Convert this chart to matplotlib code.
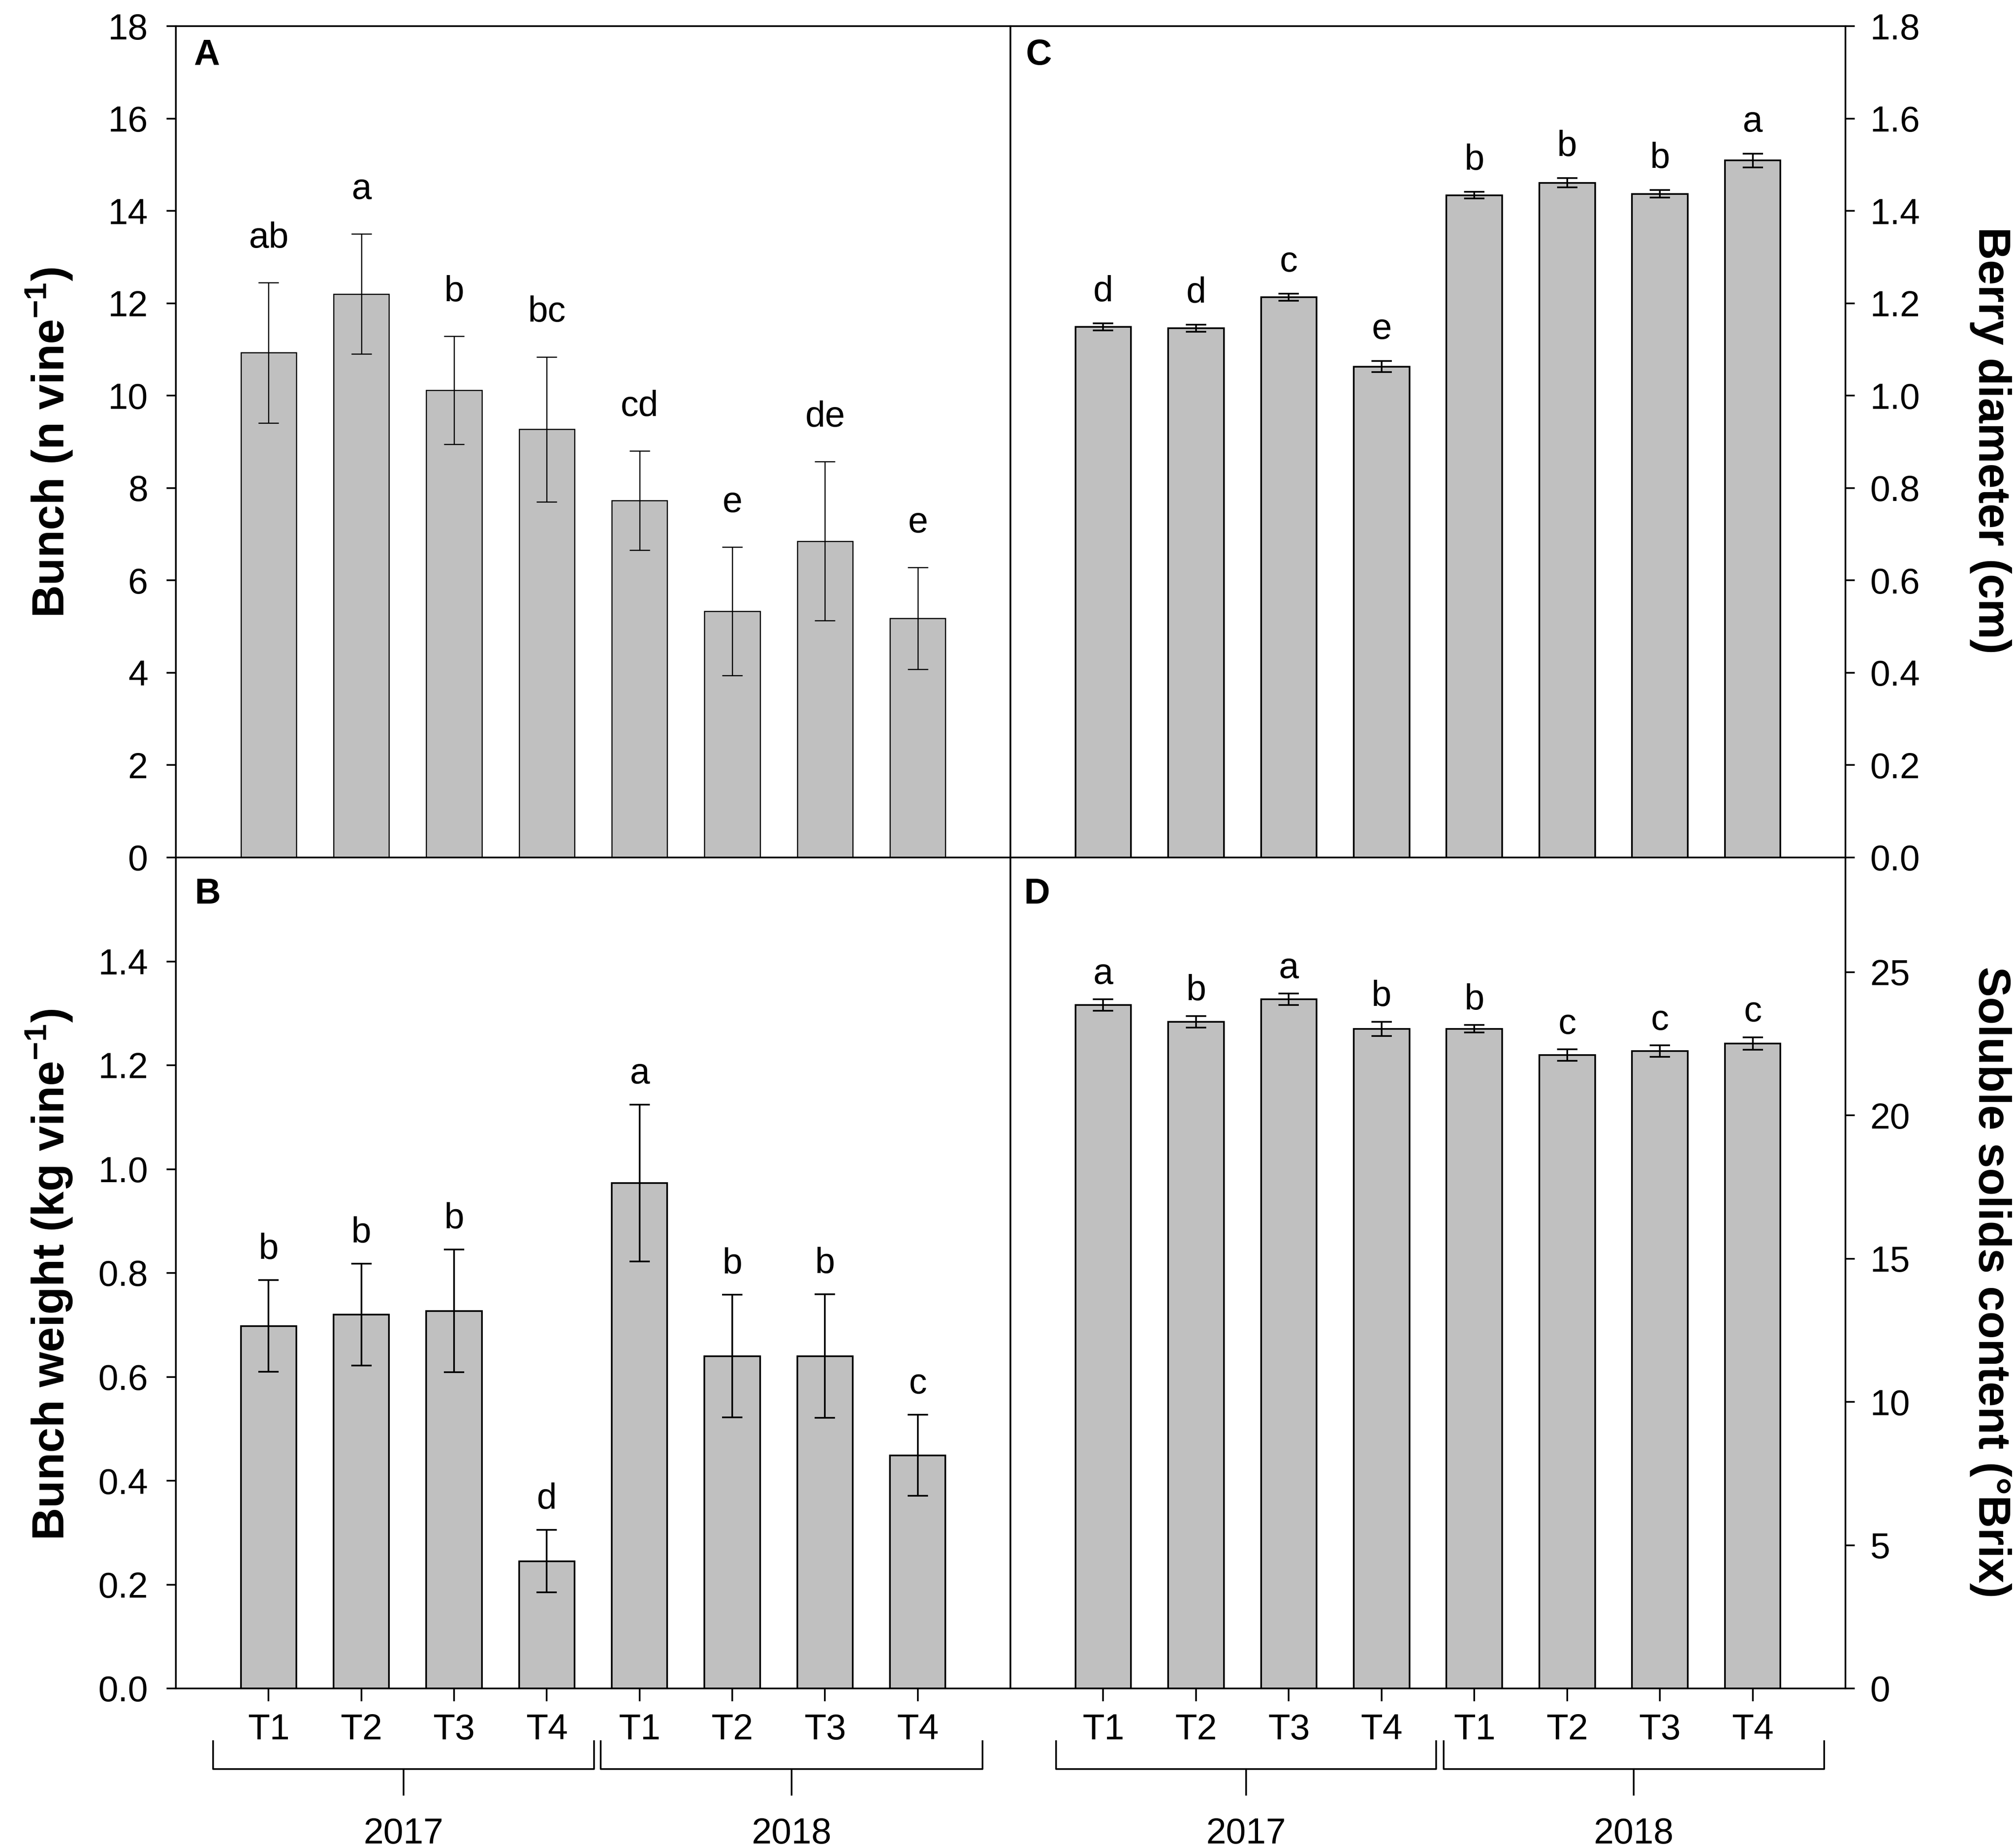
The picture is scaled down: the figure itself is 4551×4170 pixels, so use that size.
import numpy as np
import matplotlib.pyplot as plt

plt.rcParams['font.family'] = ['Liberation Sans', 'DejaVu Sans']
plt.rcParams['mathtext.fontset'] = 'custom'
plt.rcParams['mathtext.rm'] = 'Liberation Sans'
plt.rcParams['mathtext.bf'] = 'Liberation Sans:bold'

# data
treatments = ['T1', 'T2', 'T3', 'T4', 'T1', 'T2', 'T3', 'T4']
years = ['2017', '2018']

bunch_n = [10.93, 12.20, 10.12, 9.27, 7.73, 5.33, 6.85, 5.18]
bunch_n_se = [1.52, 1.30, 1.17, 1.57, 1.07, 1.39, 1.72, 1.10]
bunch_n_letters = ['ab', 'a', 'b', 'bc', 'cd', 'e', 'de', 'e']

bunch_w = [0.698, 0.720, 0.727, 0.245, 0.973, 0.640, 0.640, 0.449]
bunch_w_se = [0.088, 0.098, 0.118, 0.060, 0.151, 0.118, 0.119, 0.078]
bunch_w_letters = ['b', 'b', 'b', 'd', 'a', 'b', 'b', 'c']

berry_d = [1.149, 1.146, 1.213, 1.063, 1.434, 1.461, 1.437, 1.509]
berry_d_se = [0.008, 0.008, 0.008, 0.012, 0.007, 0.010, 0.008, 0.015]
berry_d_letters = ['d', 'd', 'c', 'e', 'b', 'b', 'b', 'a']

ssc = [23.85, 23.27, 24.05, 23.02, 23.02, 22.10, 22.24, 22.51]
ssc_se = [0.20, 0.20, 0.20, 0.25, 0.13, 0.20, 0.20, 0.22]
ssc_letters = ['a', 'b', 'a', 'b', 'b', 'c', 'c', 'c']

W, H = 4551, 4170
fig = plt.figure(figsize=(W / 300, H / 300), dpi=300)

x_l, x_m, x_r = 397 / W, 2281 / W, 4166 / W
y_t, y_m, y_b = 1 - 59 / H, 1 - 1936 / H, 1 - 3812 / H

axA = fig.add_axes([x_l, y_m, x_m - x_l, y_t - y_m])
axC = fig.add_axes([x_m, y_m, x_r - x_m, y_t - y_m])
axB = fig.add_axes([x_l, y_b, x_m - x_l, y_m - y_b])
axD = fig.add_axes([x_m, y_b, x_r - x_m, y_m - y_b])

xpos = np.arange(1, 9)
FS = 19.5


def draw_panel(ax, vals, errs, letters, ylim, ticks, fmt, gap, lw, right=False):
    ax.bar(xpos, vals, width=0.6, color='#c0c0c0', edgecolor='black', linewidth=lw, zorder=2)
    ax.errorbar(xpos, vals, yerr=errs, fmt='none', ecolor='black', elinewidth=lw,
                capsize=5.5, capthick=lw, zorder=3)
    for x, v, e, s in zip(xpos, vals, errs, letters):
        ax.annotate(s, xy=(x, v + e), xytext=(0, gap), textcoords='offset points',
                    ha='center', va='baseline', fontsize=FS)
    ax.set_xlim(0, 9)
    ax.set_ylim(*ylim)
    ax.set_yticks(ticks)
    ax.set_yticklabels([fmt.format(t) for t in ticks])
    for sp in ax.spines.values():
        sp.set_linewidth(0.9)
    if right:
        ax.yaxis.tick_right()
        ax.tick_params(axis='y', direction='out', length=5, width=0.9, labelsize=FS, pad=8.5)
    else:
        ax.tick_params(axis='y', direction='out', length=5, width=0.9, labelsize=FS, pad=10)


draw_panel(axA, bunch_n, bunch_n_se, bunch_n_letters, (0, 18), np.arange(0, 19, 2), '{:.0f}', 19, 0.6)
draw_panel(axC, berry_d, berry_d_se, berry_d_letters, (0, 1.8), np.arange(0, 1.81, 0.2), '{:.1f}', 12, 0.9, right=True)
draw_panel(axB, bunch_w, bunch_w_se, bunch_w_letters, (0, 1.6), np.arange(0, 1.41, 0.2), '{:.1f}', 11.5, 0.9)
draw_panel(axD, ssc, ssc_se, ssc_letters, (0, 29), np.arange(0, 26, 5), '{:.0f}', 8.5, 0.9, right=True)

for ax in (axA, axC):
    ax.set_xticks([])
for ax in (axB, axD):
    ax.set_xticks(xpos)
    ax.set_xticklabels(treatments)
    ax.tick_params(axis='x', direction='out', length=7, width=0.9, labelsize=FS, pad=6.5)

# panel letters
for ax, s, px, py in [(axA, 'A', 0.0218, 0.9537), (axC, 'C', 0.0186, 0.9537),
                      (axB, 'B', 0.0228, 0.9446), (axD, 'D', 0.0164, 0.9446)]:
    ax.text(px, py, s, transform=ax.transAxes, ha='left', va='baseline',
            fontsize=FS, fontweight='bold')


# year brackets under the bottom panels
def year_bracket(ax, x0, x1, label):
    tr = ax.get_xaxis_transform()
    ax.plot([x0, x0, x1, x1], [-0.0634, -0.097, -0.097, -0.0634], transform=tr,
            clip_on=False, color='black', lw=0.9)
    xm = (x0 + x1) / 2
    ax.plot([xm, xm], [-0.097, -0.128], transform=tr, clip_on=False, color='black', lw=0.9)
    ax.text(xm, -0.155, label, transform=tr, ha='center', va='top', fontsize=FS)


year_bracket(axB, 0.40, 4.51, years[0])
year_bracket(axB, 4.58, 8.70, years[1])
year_bracket(axD, 0.49, 4.59, years[0])
year_bracket(axD, 4.67, 8.77, years[1])

# axis titles
LFS = 24.5
fig.text(111 / W, 1 - 999 / H, r'Bunch (n vine$^{\mathbf{-1}}$)', rotation=90,
         ha='center', va='center', fontsize=LFS, fontweight='bold')
fig.text(111 / W, 1 - 2878 / H, r'Bunch weight (kg vine$^{\mathbf{-1}}$)', rotation=90,
         ha='center', va='center', fontsize=LFS, fontweight='bold')
fig.text(4493 / W, 1 - 994 / H, 'Berry diameter (cm)', rotation=270,
         ha='center', va='center', fontsize=LFS, fontweight='bold')
fig.text(4493 / W, 1 - 2895 / H, 'Soluble solids content (°Brix)', rotation=270,
         ha='center', va='center', fontsize=LFS, fontweight='bold')

fig.savefig('out.png', dpi=300)
